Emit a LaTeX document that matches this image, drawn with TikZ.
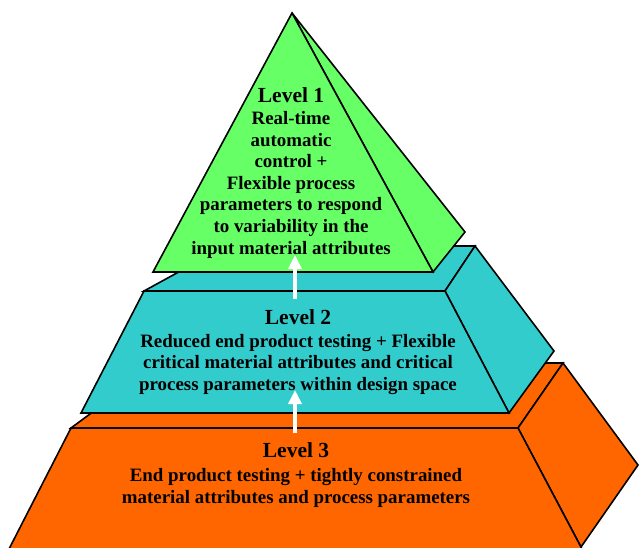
\documentclass[tikz,border=0pt]{standalone}
\usepackage{fontspec}
\setmainfont{Liberation Serif}
\usetikzlibrary{arrows.meta}
\definecolor{lgreen}{HTML}{66FF66}
\definecolor{lteal}{HTML}{33CCCC}
\definecolor{lorange}{HTML}{FF6600}
\begin{document}
\begin{tikzpicture}[x=1pt,y=-1pt,
  face/.style={draw=black,line width=1.6pt,line join=miter},
  lvltext/.style={align=center,font=\bfseries\fontsize{18.9}{21.6}\selectfont,inner sep=0pt},
  ttl/.style={},
  upar/.style={draw=white,line width=4pt,-{Triangle[length=14pt,width=13pt]}}]
\useasboundingbox (0,0) rectangle (639,547);
% Level 3 (orange)
\draw[face,fill=lorange] (71,428) -- (159,363) -- (563,363) -- (518,428) -- cycle;
\draw[face,fill=lorange] (518,428) -- (563,363) -- (638,465) -- (581,547) -- cycle;
\draw[face,fill=lorange] (71,428) -- (518,428) -- (582,549) -- (9,549) -- cycle;
% Level 2 (teal)
\draw[face,fill=lteal] (144,291) -- (226,246) -- (475,246) -- (445,291) -- cycle;
\draw[face,fill=lteal] (445,291) -- (475,246) -- (554,351) -- (509,413) -- cycle;
\draw[face,fill=lteal] (144,291) -- (445,291) -- (509,413) -- (81,413) -- cycle;
% Level 1 (green)
\draw[face,fill=lgreen] (292,13) -- (465,232) -- (433,272) -- cycle;
\draw[face,fill=lgreen] (292,13) -- (433,272) -- (153,272) -- cycle;
% texts
\node[lvltext] (l1) at (291,173) {{\fontsize{21.5}{21.6}\selectfont Level 1}\\Real-time\\automatic\\control +\\Flexible process\\parameters to respond\\to variability in the\\input material attributes};
\node[lvltext] (l2) at (298,352) {{\fontsize{21.5}{21.6}\selectfont Level 2}\\[1.5pt]Reduced end product testing + Flexible\\critical material attributes and critical\\process parameters within design space};
\node[lvltext] (l3) at (296,475) {{\fontsize{21.5}{21.6}\selectfont Level 3}\\[2pt]End product testing + tightly constrained\\material attributes and process parameters};
% arrows
\coordinate (a1s) at (295,299);
\coordinate (a1e) at (295,255);
\coordinate (a2s) at (295,433);
\coordinate (a2e) at (295,390);
\draw[upar] (a1s) -- (a1e);
\draw[upar] (a2s) -- (a2e);
\end{tikzpicture}
\end{document}
